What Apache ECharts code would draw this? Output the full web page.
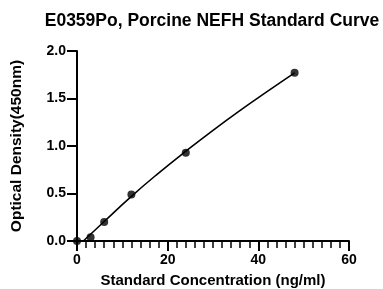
<!DOCTYPE html>
<html>
<head>
<meta charset="utf-8">
<title>Standard Curve</title>
<script src="https://cdn.jsdelivr.net/npm/echarts@6/dist/echarts.min.js"></script>
<style>
  html, body { margin: 0; padding: 0; background: #fff; }
  #chart { width: 383px; height: 289px; }
</style>
</head>
<body>
<div id="chart"></div>
<script>
// measured standards
var concentration = [0, 3, 6, 12, 24, 48];
var odValues = [0.0, 0.04, 0.20, 0.49, 0.93, 1.77];
// points
var curveX = [1.4, 6, 12, 18, 24, 30, 36, 42, 48];
var curveY = [0.0, 0.205, 0.47, 0.715, 0.945, 1.165, 1.375, 1.575, 1.77];
var xTicks = [0, 20, 40, 60];
var yTicks = [0.0, 0.5, 1.0, 1.5, 2.0];

var chart = echarts.init(document.getElementById('chart'));
var font = 'Liberation Sans, Arial, sans-serif';

chart.setOption({
    animation: false,
    title: {
        text: 'E0359Po, Porcine NEFH Standard Curve',
        left: 207,
        textAlign: 'center',
        top: 7,
        textStyle: { fontFamily: font, fontSize: 17.5, fontWeight: 'bold', color: '#000' }
    },
    grid: { left: 77, right: 34, top: 51, bottom: 48, containLabel: false, outerBoundsMode: 'none' },
    xAxis: {
        type: 'value',
        z: 5,
        min: xTicks[0], max: xTicks[xTicks.length - 1], interval: 20,
        name: 'Standard Concentration (ng/ml)',
        nameLocation: 'middle', nameGap: 32,
        nameTextStyle: { fontFamily: font, fontSize: 15, fontWeight: 'bold', color: '#000' },
        axisLine: { onZero: false, lineStyle: { color: '#000', width: 2 } },
        axisTick: { show: true, inside: false, length: 10, lineStyle: { color: '#000', width: 2 } },
        minorTick: { show: true, splitNumber: 10, length: 7, lineStyle: { color: '#000', width: 1.5 } },
        axisLabel: { fontFamily: font, fontSize: 14, fontWeight: 'bold', color: '#000', margin: 12 },
        splitLine: { show: false }
    },
    yAxis: {
        type: 'value',
        z: 5,
        min: yTicks[0], max: yTicks[yTicks.length - 1], interval: 0.5,
        name: 'Optical Density(450nm)',
        nameLocation: 'middle', nameGap: 52,
        nameTextStyle: { fontFamily: font, fontSize: 15.5, fontWeight: 'bold', color: '#000' },
        axisLine: { show: true, onZero: false, lineStyle: { color: '#000', width: 2 } },
        axisTick: { show: true, inside: false, length: 10, lineStyle: { color: '#000', width: 2 } },
        axisLabel: {
            fontFamily: font, fontSize: 14, fontWeight: 'bold', color: '#000', margin: 11,
            formatter: function (v) { return v.toFixed(1); }
        },
        splitLine: { show: false }
    },
    series: [
        {
            type: 'line',
            smooth: true,
            symbol: 'none',
            data: curveX.map(function (x, i) { return [x, curveY[i]]; }),
            lineStyle: { color: '#000', width: 1.6 },
            z: 2
        },
        {
            type: 'scatter',
            symbolSize: 8,
            data: concentration.map(function (x, i) { return [x, odValues[i]]; }),
            itemStyle: { color: '#000' },
            z: 3
        }
    ]
});
</script>
</body>
</html>
